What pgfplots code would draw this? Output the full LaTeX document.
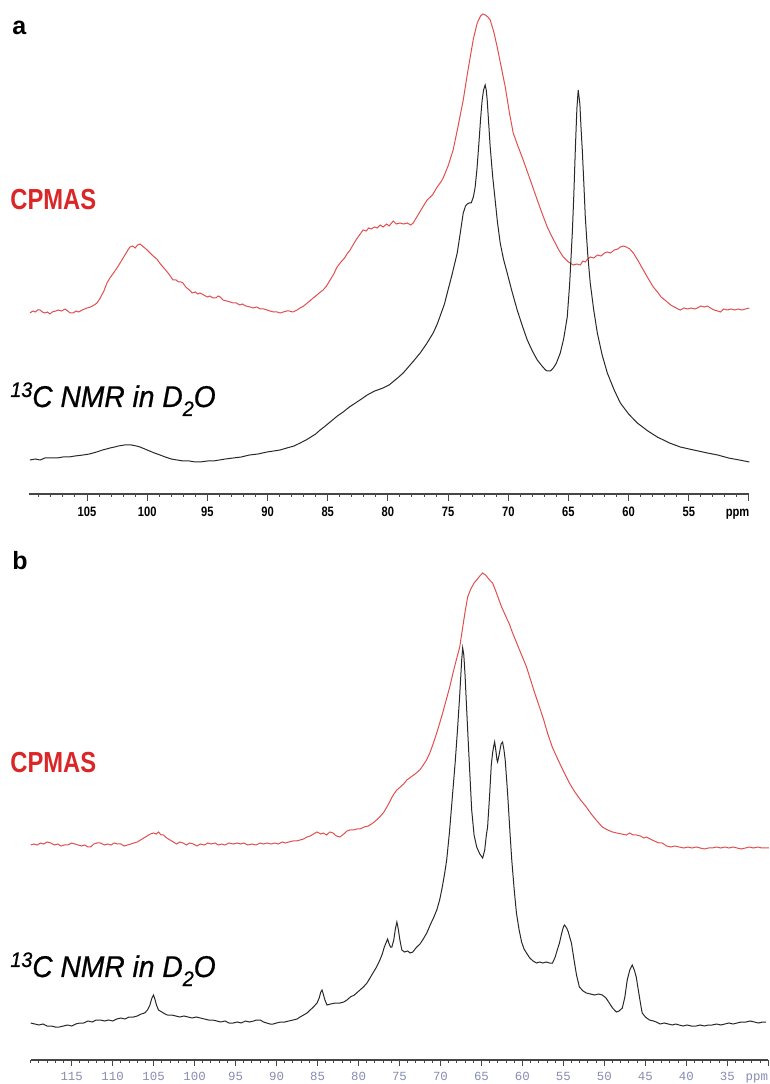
\documentclass[border=0pt]{standalone}
\usepackage{fontspec}
\usepackage{pgfplots}
\pgfplotsset{compat=1.18}
\setmainfont{Liberation Sans}
\newfontfamily\narrow[FakeStretch=0.82]{Liberation Sans}
\newfontfamily\nmrfont[FakeStretch=0.94,FakeBold=0.7]{Liberation Sans}
\newfontfamily\monof{Liberation Mono}
\definecolor{spred}{RGB}{225,78,78}
\definecolor{txtred}{RGB}{218,38,38}
\definecolor{spblk}{RGB}{40,40,40}
\definecolor{tickblue}{RGB}{135,140,178}
\newcommand\nmrlabel{{\nmrfont\itshape\fontsize{15}{17}\selectfont\raisebox{5pt}{\fontsize{10.5}{11}\selectfont 13}C NMR in D\raisebox{-4.5pt}{\fontsize{10.5}{11}\selectfont 2}O}}
\begin{document}
\begin{tikzpicture}[x=1pt,y=1pt]
\useasboundingbox (0,0) rectangle (385,542);
% ---------------- panel a ----------------
\begin{axis}[
  at={(14.5pt,295pt)}, anchor=south west,
  scale only axis, width=360pt, height=242pt,
  x dir=reverse, xmin=50, xmax=109.82, ymin=0, ymax=484,
  axis x line=bottom, axis y line=none, ytick=\empty,
  axis line style={-, line width=0.7pt, gray!55!black},
  xtick={50,55,...,105}, xticklabels={,55,60,65,70,75,80,85,90,95,100,105},
  minor xtick={50,51,...,109},
  extra x ticks={50.95}, extra x tick labels={\vphantom{0}ppm},
  extra x tick style={tick style={draw=none}},
  tick align=outside, major tick length=3.5pt, minor tick length=1.5pt,
  every tick/.style={line width=0.5pt, gray!55!black},
  xticklabel style={font=\narrow\bfseries\fontsize{6.8}{8}\selectfont, text=black, inner sep=0pt, anchor=north, yshift=-3pt},
  clip=false,
]
\addplot[spred, line width=0.5pt] coordinates {
(109.74,181)(109.5,183)(109.3,182)(109.1,184)(108.91,184)(108.7,182)(108.5,181)(108.3,182)(108.08,180)(107.9,182)(107.6,183)(107.4,184)(107.1,183)(106.83,185)(106.6,183)(106.4,181)(106.16,181)(105.9,183)(105.7,182)(105.4,184)(105.2,185)(105.0,186)(104.7,187)(104.4,189)(104.17,191)(103.9,196)(103.6,203)(103.34,211)(103.1,216)(102.8,221)(102.51,226)(102.2,232)(101.9,238)(101.6,244)(101.43,247)(101.2,248)(101.0,246)(100.8,249)(100.59,250)(100.4,248)(100.2,246)(100.0,244)(99.76,241)(99.5,238)(99.2,235)(98.9,230)(98.68,227)(98.4,223)(98.2,220)(97.85,214)(97.6,214)(97.4,212)(97.2,212)(97.02,211)(96.8,207)(96.6,205)(96.4,203)(96.27,201)(96.0,202)(95.8,200)(95.61,201)(95.3,199)(95.0,197)(94.8,198)(94.53,196)(94.3,196)(94.1,198)(93.94,197)(93.7,194)(93.4,193)(93.1,192)(92.86,191)(92.6,191)(92.3,189)(92.1,190)(91.8,188)(91.45,187)(91.2,186)(90.9,187)(90.6,185)(90.3,185)(90.04,184)(89.8,183)(89.5,182)(89.2,182)(88.96,181)(88.7,182)(88.4,183)(88.2,183)(87.9,182)(87.54,184)(87.3,186)(87.0,188)(86.7,191)(86.4,194)(86.21,196)(85.9,199)(85.6,202)(85.38,204)(85.1,208)(84.8,214)(84.5,220)(84.22,227)(83.9,232)(83.6,236)(83.4,240)(83.14,244)(82.9,249)(82.6,255)(82.3,260)(82.06,264)(81.8,263)(81.6,266)(81.4,265)(81.1,267)(80.9,266)(80.64,269)(80.4,267)(80.1,270)(79.9,268)(79.56,273)(79.3,270)(79.0,271)(78.7,270)(78.4,271)(78.1,269)(77.90,271)(77.6,277)(77.3,283)(77.0,289)(76.74,294)(76.3,299)(75.91,307)(75.6,312)(75.41,316)(75.0,328)(74.58,344)(74.2,366)(73.74,394)(73.4,420)(73.16,437)(72.9,455)(72.58,471)(72.3,478)(72.1,480)(71.9,479)(71.7,477)(71.50,474)(71.2,462)(70.92,447)(70.6,428)(70.25,407)(69.9,381)(69.59,361)(69.2,348)(68.76,334)(68.2,315)(67.59,294)(67.2,281)(66.76,267)(66.4,258)(66.10,251)(65.8,244)(65.43,237)(65.0,232)(64.60,229)(64.3,230)(64.02,229)(63.8,233)(63.6,232)(63.4,235)(63.19,237)(62.9,236)(62.6,239)(62.3,238)(62.0,241)(61.77,242)(61.5,241)(61.2,244)(60.9,245)(60.7,247)(60.44,248)(60.2,247)(59.9,245)(59.61,241)(59.2,233)(58.78,224)(58.4,216)(57.95,207)(57.6,202)(57.3,197)(56.79,192)(56.5,189)(56.2,187)(55.9,185)(55.71,184)(55.4,186)(55.1,185)(54.8,186)(54.5,185)(54.29,186)(54.0,188)(53.7,187)(53.46,188)(53.2,186)(52.9,184)(52.6,183)(52.38,182)(52.1,185)(51.80,184)(51.5,185)(51.2,184)(50.9,185)(50.6,184)(50.3,185)(49.97,186)
};
\addplot[spblk, line width=0.5pt] coordinates {
(109.74,34)(109.3,35)(108.9,34)(108.5,36)(108.08,36)(107.5,36)(107.0,37)(106.5,37)(106.0,38)(105.33,39)(104.8,40)(104.2,42)(103.7,44)(103.09,46)(102.7,47)(102.4,48)(101.9,49)(101.68,49)(101.3,49)(100.9,48)(100.59,47)(100.2,45)(99.8,43)(99.4,41)(98.93,39)(98.5,37)(98.0,35)(97.52,34)(97.0,33)(96.5,33)(96.0,32)(95.61,32)(95.0,33)(94.5,33)(94.0,34)(93.5,35)(92.86,36)(92.2,37)(91.5,39)(90.8,40)(90.04,42)(89.5,43)(88.96,44)(88.4,46)(87.8,48)(87.29,51)(86.8,54)(86.4,57)(86.0,60)(85.63,64)(85.2,68)(84.7,73)(84.2,78)(83.72,82)(83.2,87)(82.7,91)(82.2,95)(81.72,99)(81.1,103)(80.40,106)(79.9,109)(79.5,113)(79.1,117)(78.73,121)(78.3,127)(77.8,134)(77.32,141)(76.8,150)(76.24,161)(75.9,170)(75.6,180)(75.3,190)(75.07,201)(74.7,218)(74.24,241)(74.0,260)(73.74,281)(73.55,288)(73.41,290)(73.25,291)(73.08,291)(72.9,297)(72.75,307)(72.6,325)(72.42,354)(72.3,375)(72.17,394)(72.05,404)(71.92,409)(71.83,404)(71.75,394)(71.65,375)(71.50,347)(71.3,318)(71.09,294)(70.9,272)(70.67,251)(70.4,235)(70.09,221)(69.7,203)(69.26,184)(68.8,167)(68.42,154)(68.0,143)(67.59,134)(67.2,128)(66.9,124)(66.76,123)(66.5,123)(66.26,126)(66.0,131)(65.68,141)(65.4,155)(65.10,177)(64.9,210)(64.68,261)(64.55,300)(64.43,344)(64.3,385)(64.19,404)(64.05,390)(63.95,365)(63.85,344)(63.70,305)(63.60,277)(63.4,240)(63.19,211)(62.9,184)(62.60,161)(62.2,139)(61.77,121)(61.2,104)(60.69,91)(60.0,80)(59.28,71)(58.4,63)(57.62,57)(56.6,51)(55.71,47)(54.6,44)(53.46,41)(52.6,39)(51.7,36)(50.8,34)(49.97,32)
};
\end{axis}
% ---------------- panel b ----------------
\begin{axis}[
  at={(15.35pt,12pt)}, anchor=south west,
  scale only axis, width=368.8pt, height=247.5pt,
  x dir=reverse, xmin=30, xmax=120, ymin=0, ymax=495,
  axis x line=bottom, axis y line=none, ytick=\empty,
  axis line style={-, line width=0.7pt, gray!55!black},
  xtick={30,35,...,115}, xticklabels={,35,40,45,50,55,60,65,70,75,80,85,90,95,100,105,110,115},
  minor xtick={30,31,...,120},
  extra x ticks={31.4}, extra x tick labels={\vphantom{0}ppm},
  extra x tick style={tick style={draw=none}},
  tick align=outside, major tick length=3pt, minor tick length=1.5pt,
  every tick/.style={line width=0.5pt, gray!55!black},
  xticklabel style={font=\monof\fontsize{6.2}{8}\selectfont, text=tickblue, inner sep=0pt, anchor=north, yshift=-3pt},
  clip=false,
]
\addplot[spred, line width=0.5pt] coordinates {
(119.99,215)(119.6,216)(119.2,215)(118.8,217)(118.4,216)(118.0,218)(117.56,217)(117.1,215)(116.7,216)(116.3,214)(115.9,215)(115.49,215)(115.0,217)(114.6,216)(114.2,215)(113.8,214)(113.4,215)(113.0,213)(112.69,213)(112.3,216)(111.9,217)(111.47,217)(111.0,215)(110.6,216)(110.2,215)(109.8,217)(109.4,216)(109.0,216)(108.6,214)(108.18,215)(107.8,216)(107.4,217)(107.0,218)(106.6,220)(106.2,222)(105.8,224)(105.4,226)(105.02,227)(104.7,226)(104.4,228)(104.1,225)(103.80,225)(103.4,222)(103.0,220)(102.59,218)(102.2,216)(101.8,218)(101.4,217)(101.0,215)(100.6,217)(100.15,216)(99.7,214)(99.3,216)(98.8,215)(98.4,217)(98.0,216)(97.5,217)(97.1,215)(96.7,216)(96.3,215)(95.8,217)(95.28,216)(94.8,217)(94.4,216)(94.0,217)(93.5,215)(93.0,216)(92.5,215)(92.0,217)(91.6,216)(91.14,217)(90.7,216)(90.2,217)(89.8,216)(89.3,218)(88.9,217)(88.5,218)(88.0,219)(87.6,219)(87.13,220)(86.7,221)(86.3,223)(85.9,224)(85.5,226)(85.06,228)(84.6,226)(84.3,227)(83.9,225)(83.5,228)(83.11,227)(82.7,224)(82.26,223)(81.8,226)(81.4,229)(81.04,230)(80.6,230)(80.2,231)(79.82,231)(79.3,233)(78.8,234)(78.24,237)(77.8,240)(77.3,244)(76.9,248)(76.54,253)(76.2,258)(75.9,263)(75.6,267)(75.32,270)(74.9,273)(74.5,276)(74.10,280)(73.6,283)(73.1,286)(72.52,290)(72.1,295)(71.7,300)(71.30,307)(70.9,316)(70.5,326)(70.09,337)(69.7,348)(69.3,360)(68.87,373)(68.5,386)(68.1,399)(67.65,413)(67.3,432)(67.0,448)(66.68,463)(66.3,471)(65.9,477)(65.58,480)(65.2,484)(64.85,487)(64.5,485)(64.2,482)(63.9,479)(63.64,477)(63.3,470)(62.9,461)(62.54,453)(62.1,445)(61.6,436)(61.20,427)(60.7,417)(60.1,405)(59.50,393)(59.0,380)(58.5,367)(57.92,353)(57.4,340)(56.9,326)(56.36,313)(55.7,301)(55.0,289)(54.27,277)(53.6,268)(52.9,260)(52.20,253)(51.6,246)(50.9,239)(50.25,233)(49.6,230)(49.0,228)(48.5,227)(47.9,226)(47.33,225)(46.9,227)(46.5,225)(46.10,225)(45.6,224)(45.2,222)(44.89,223)(44.4,221)(43.9,219)(43.4,217)(42.95,217)(42.4,214)(41.9,213)(41.4,214)(40.88,213)(40.3,212)(39.8,213)(39.3,212)(38.8,213)(38.3,212)(37.8,211)(37.3,212)(36.86,212)(36.3,213)(35.8,212)(35.3,213)(34.8,212)(34.3,213)(33.8,212)(33.3,211)(32.8,212)(32.3,213)(31.8,212)(31.3,213)(30.8,212)(30.3,212)(29.92,212)
};
\addplot[spblk, line width=0.5pt] coordinates {
(119.99,37)(119.5,36)(119.0,35)(118.5,36)(118.0,34)(117.5,34)(117.0,33)(116.5,33)(116.0,34)(115.5,35)(115.0,34)(114.5,36)(114.0,37)(113.54,37)(113.0,39)(112.5,38)(112.0,40)(111.47,40)(111.0,39)(110.5,40)(110.0,39)(109.5,41)(109.0,42)(108.5,41)(108.0,43)(107.45,43)(107.0,44)(106.5,46)(106.1,47)(105.75,50)(105.45,55)(105.25,61)(105.02,65)(104.85,61)(104.65,55)(104.41,50)(104.0,48)(103.6,46)(103.32,45)(102.8,45)(102.3,44)(101.8,43)(101.3,44)(100.8,43)(100.3,42)(99.8,43)(99.30,42)(98.8,41)(98.3,40)(97.8,40)(97.3,39)(96.8,38)(96.3,39)(95.8,37)(95.28,37)(94.8,38)(94.3,37)(93.8,39)(93.3,38)(92.8,39)(92.4,40)(91.99,40)(91.6,38)(91.2,37)(90.8,36)(90.41,36)(90.0,37)(89.5,38)(89.0,38)(88.5,39)(87.98,40)(87.5,41)(87.13,43)(86.7,45)(86.28,47)(85.9,50)(85.5,53)(85.06,57)(84.8,62)(84.6,68)(84.45,70)(84.3,66)(84.1,60)(83.84,55)(83.4,56)(82.8,57)(82.26,57)(81.8,58)(81.41,60)(81.0,63)(80.5,65)(80.1,68)(79.82,70)(79.4,73)(78.97,77)(78.6,82)(78.24,87)(77.8,93)(77.39,100)(77.1,106)(76.85,113)(76.6,118)(76.45,121)(76.3,117)(76.1,113)(75.93,113)(75.7,120)(75.5,131)(75.32,138)(75.15,131)(74.95,120)(74.71,110)(74.4,108)(74.0,109)(73.7,107)(73.37,108)(73.0,112)(72.5,116)(72.1,121)(71.67,127)(71.2,136)(70.8,143)(70.45,150)(70.1,160)(69.8,172)(69.5,186)(69.24,200)(68.9,228)(68.51,267)(68.2,298)(67.90,333)(67.65,365)(67.41,400)(67.29,412)(67.15,405)(67.0,385)(66.80,350)(66.5,300)(66.19,250)(65.9,225)(65.58,213)(65.2,206)(64.85,202)(64.6,210)(64.4,225)(64.25,233)(64.0,265)(63.8,295)(63.64,307)(63.5,314)(63.39,318)(63.25,310)(63.10,300)(63.03,298)(62.85,305)(62.6,316)(62.42,318)(62.25,310)(62.10,300)(61.81,267)(61.5,225)(61.30,200)(61.0,170)(60.73,147)(60.4,130)(60.1,118)(59.80,111)(59.50,107)(59.1,102)(58.7,99)(58.28,97)(57.9,98)(57.5,97)(57.1,98)(56.7,97)(56.33,97)(56.0,103)(55.75,110)(55.48,117)(55.2,127)(55.0,133)(54.87,135)(54.6,132)(54.4,128)(54.2,122)(54.02,117)(53.7,100)(53.4,85)(53.05,73)(52.6,69)(52.20,67)(51.7,66)(51.2,65)(50.7,66)(50.25,65)(49.8,62)(49.40,57)(49.0,52)(48.54,48)(48.2,49)(47.81,52)(47.5,63)(47.21,80)(46.9,90)(46.60,95)(46.35,90)(46.11,83)(45.9,72)(45.70,62)(45.5,52)(45.38,47)(45.0,43)(44.5,40)(44.0,39)(43.66,38)(43.2,36)(42.7,37)(42.2,36)(41.7,35)(41.3,36)(40.88,35)(40.4,34)(39.9,35)(39.4,34)(38.8,34)(38.3,35)(37.8,34)(37.3,35)(36.86,35)(36.3,36)(35.8,35)(35.3,36)(34.8,37)(34.3,36)(33.8,37)(33.3,38)(32.72,38)(32.2,39)(31.7,38)(31.2,37)(30.7,38)(30.29,38)
};
\end{axis}
% ---------------- labels ----------------
\node[anchor=base west, inner sep=0pt, font=\bfseries\fontsize{12.5}{14}\selectfont] at (6,524.5) {a};
\node[anchor=base west, inner sep=0pt, font=\bfseries\fontsize{12.5}{14}\selectfont] at (6,257) {b};
\node[anchor=base west, inner sep=0pt, text=txtred, font=\narrow\bfseries\fontsize{14.5}{16}\selectfont] at (5,437) {CPMAS};
\node[anchor=base west, inner sep=0pt, text=txtred, font=\narrow\bfseries\fontsize{14.5}{16}\selectfont] at (5,155.5) {CPMAS};
\node[anchor=base west, inner sep=0pt] at (5,338.5) {\nmrlabel};
\node[anchor=base west, inner sep=0pt] at (5,53.5) {\nmrlabel};
\end{tikzpicture}
\end{document}
